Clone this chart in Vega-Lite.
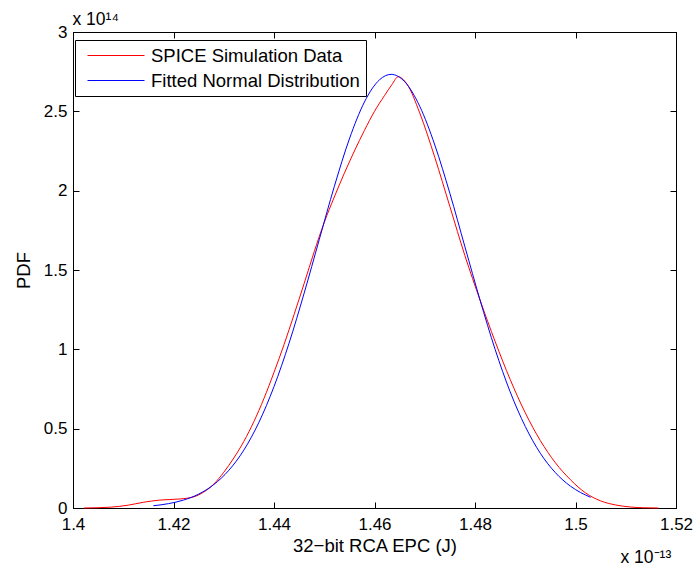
{
  "$schema": "https://vega.github.io/schema/vega-lite/v6.json",
  "width": 603,
  "height": 476,
  "autosize": "none",
  "padding": {"left": 73, "top": 32, "right": 21, "bottom": 61},
  "background": "white",
  "config": {
    "font": "Liberation Sans",
    "view": {"stroke": "black", "strokeWidth": 1},
    "axis": {
      "grid": false,
      "domainColor": "black",
      "tickColor": "black",
      "labelColor": "black",
      "titleColor": "black",
      "labelFontSize": 17,
      "titleFontSize": 18.5,
      "titleFontWeight": "normal",
      "labelFont": "Liberation Sans",
      "titleFont": "Liberation Sans",
      "tickSize": -6
    }
  },
  "data": {
    "values": [
      {"x": 1.4022, "y": 0, "series": "SPICE Simulation Data"},
      {"x": 1.4074, "y": 0.005, "series": "SPICE Simulation Data"},
      {"x": 1.411, "y": 0.018, "series": "SPICE Simulation Data"},
      {"x": 1.414, "y": 0.036, "series": "SPICE Simulation Data"},
      {"x": 1.4173, "y": 0.05, "series": "SPICE Simulation Data"},
      {"x": 1.4213, "y": 0.057, "series": "SPICE Simulation Data"},
      {"x": 1.424, "y": 0.07, "series": "SPICE Simulation Data"},
      {"x": 1.426, "y": 0.1, "series": "SPICE Simulation Data"},
      {"x": 1.428, "y": 0.15, "series": "SPICE Simulation Data"},
      {"x": 1.43, "y": 0.225, "series": "SPICE Simulation Data"},
      {"x": 1.432, "y": 0.315, "series": "SPICE Simulation Data"},
      {"x": 1.434, "y": 0.42, "series": "SPICE Simulation Data"},
      {"x": 1.436, "y": 0.545, "series": "SPICE Simulation Data"},
      {"x": 1.438, "y": 0.69, "series": "SPICE Simulation Data"},
      {"x": 1.44, "y": 0.855, "series": "SPICE Simulation Data"},
      {"x": 1.442, "y": 1.03, "series": "SPICE Simulation Data"},
      {"x": 1.444, "y": 1.22, "series": "SPICE Simulation Data"},
      {"x": 1.446, "y": 1.415, "series": "SPICE Simulation Data"},
      {"x": 1.448, "y": 1.615, "series": "SPICE Simulation Data"},
      {"x": 1.45, "y": 1.8, "series": "SPICE Simulation Data"},
      {"x": 1.452, "y": 1.96, "series": "SPICE Simulation Data"},
      {"x": 1.454, "y": 2.11, "series": "SPICE Simulation Data"},
      {"x": 1.456, "y": 2.25, "series": "SPICE Simulation Data"},
      {"x": 1.458, "y": 2.38, "series": "SPICE Simulation Data"},
      {"x": 1.46, "y": 2.5, "series": "SPICE Simulation Data"},
      {"x": 1.462, "y": 2.6, "series": "SPICE Simulation Data"},
      {"x": 1.4635, "y": 2.67, "series": "SPICE Simulation Data"},
      {"x": 1.4647, "y": 2.718, "series": "SPICE Simulation Data"},
      {"x": 1.4665, "y": 2.67, "series": "SPICE Simulation Data"},
      {"x": 1.469, "y": 2.49, "series": "SPICE Simulation Data"},
      {"x": 1.472, "y": 2.21, "series": "SPICE Simulation Data"},
      {"x": 1.475, "y": 1.9, "series": "SPICE Simulation Data"},
      {"x": 1.478, "y": 1.59, "series": "SPICE Simulation Data"},
      {"x": 1.481, "y": 1.311, "series": "SPICE Simulation Data"},
      {"x": 1.484, "y": 1.05, "series": "SPICE Simulation Data"},
      {"x": 1.487, "y": 0.81, "series": "SPICE Simulation Data"},
      {"x": 1.49, "y": 0.6, "series": "SPICE Simulation Data"},
      {"x": 1.493, "y": 0.425, "series": "SPICE Simulation Data"},
      {"x": 1.496, "y": 0.285, "series": "SPICE Simulation Data"},
      {"x": 1.499, "y": 0.178, "series": "SPICE Simulation Data"},
      {"x": 1.502, "y": 0.095, "series": "SPICE Simulation Data"},
      {"x": 1.505, "y": 0.045, "series": "SPICE Simulation Data"},
      {"x": 1.508, "y": 0.019, "series": "SPICE Simulation Data"},
      {"x": 1.511, "y": 0.006, "series": "SPICE Simulation Data"},
      {"x": 1.5135, "y": 0.0015, "series": "SPICE Simulation Data"},
      {"x": 1.5165, "y": 0, "series": "SPICE Simulation Data"},
      {"x": 1.416, "y": 0.0143, "series": "Fitted Normal Distribution"},
      {"x": 1.419, "y": 0.0274, "series": "Fitted Normal Distribution"},
      {"x": 1.422, "y": 0.05, "series": "Fitted Normal Distribution"},
      {"x": 1.425, "y": 0.0875, "series": "Fitted Normal Distribution"},
      {"x": 1.428, "y": 0.147, "series": "Fitted Normal Distribution"},
      {"x": 1.431, "y": 0.237, "series": "Fitted Normal Distribution"},
      {"x": 1.434, "y": 0.365, "series": "Fitted Normal Distribution"},
      {"x": 1.437, "y": 0.54, "series": "Fitted Normal Distribution"},
      {"x": 1.44, "y": 0.765, "series": "Fitted Normal Distribution"},
      {"x": 1.443, "y": 1.039, "series": "Fitted Normal Distribution"},
      {"x": 1.446, "y": 1.354, "series": "Fitted Normal Distribution"},
      {"x": 1.449, "y": 1.691, "series": "Fitted Normal Distribution"},
      {"x": 1.452, "y": 2.026, "series": "Fitted Normal Distribution"},
      {"x": 1.455, "y": 2.326, "series": "Fitted Normal Distribution"},
      {"x": 1.458, "y": 2.559, "series": "Fitted Normal Distribution"},
      {"x": 1.461, "y": 2.699, "series": "Fitted Normal Distribution"},
      {"x": 1.4633, "y": 2.733, "series": "Fitted Normal Distribution"},
      {"x": 1.466, "y": 2.687, "series": "Fitted Normal Distribution"},
      {"x": 1.469, "y": 2.532, "series": "Fitted Normal Distribution"},
      {"x": 1.472, "y": 2.288, "series": "Fitted Normal Distribution"},
      {"x": 1.475, "y": 1.983, "series": "Fitted Normal Distribution"},
      {"x": 1.478, "y": 1.646, "series": "Fitted Normal Distribution"},
      {"x": 1.481, "y": 1.311, "series": "Fitted Normal Distribution"},
      {"x": 1.484, "y": 1.0, "series": "Fitted Normal Distribution"},
      {"x": 1.487, "y": 0.732, "series": "Fitted Normal Distribution"},
      {"x": 1.49, "y": 0.514, "series": "Fitted Normal Distribution"},
      {"x": 1.493, "y": 0.345, "series": "Fitted Normal Distribution"},
      {"x": 1.496, "y": 0.2226, "series": "Fitted Normal Distribution"},
      {"x": 1.499, "y": 0.1375, "series": "Fitted Normal Distribution"},
      {"x": 1.501, "y": 0.0975, "series": "Fitted Normal Distribution"},
      {"x": 1.503, "y": 0.0678, "series": "Fitted Normal Distribution"}
    ]
  },
  "resolve": {"axis": {"x": "independent", "y": "independent"}},
  "layer": [
    {
      "mark": {"type": "line", "strokeWidth": 1, "interpolate": "monotone"},
      "encoding": {
        "x": {
          "field": "x", "type": "quantitative",
          "scale": {"domain": [1.4, 1.52], "nice": false, "zero": false},
          "axis": {
            "orient": "bottom",
            "values": [1.4, 1.42, 1.44, 1.46, 1.48, 1.5, 1.52],
            "format": "~g",
            "labelPadding": 14,
            "labelFlush": false,
            "labelOverlap": false,
            "title": "32−bit RCA EPC (J)",
            "titlePadding": 4
          }
        },
        "y": {
          "field": "y", "type": "quantitative",
          "scale": {"domain": [0, 3], "nice": false},
          "axis": {
            "orient": "left",
            "values": [0, 0.5, 1, 1.5, 2, 2.5, 3],
            "format": "~g",
            "labelPadding": 12,
            "labelFlush": false,
            "labelOverlap": false,
            "title": "PDF",
            "titlePadding": 10
          }
        },
        "color": {
          "field": "series", "type": "nominal",
          "scale": {
            "domain": ["SPICE Simulation Data", "Fitted Normal Distribution"],
            "range": ["#ff0000", "#0000ff"]
          },
          "legend": {
            "title": null,
            "orient": "none",
            "legendX": 2,
            "legendY": 8,
            "symbolType": "stroke",
            "symbolSize": 3249,
            "symbolStrokeWidth": 1,
            "symbolOffset": 6,
            "labelFontSize": 18.5,
            "labelLimit": 0,
            "labelColor": "black",
            "labelFont": "Liberation Sans",
            "strokeColor": "black",
            "fillColor": "white",
            "padding": 6,
            "rowPadding": 6,
            "clipHeight": 19,
            "labelOffset": 6
          }
        }
      }
    },
    {
      "mark": {"type": "line", "opacity": 0},
      "encoding": {
        "x": {
          "field": "x", "type": "quantitative",
          "scale": {"domain": [1.4, 1.52], "nice": false, "zero": false},
          "axis": {
            "orient": "top",
            "values": [1.4, 1.42, 1.44, 1.46, 1.48, 1.5, 1.52],
            "labels": false,
            "title": "x 10⁻¹³",
            "titleFontSize": 17.5,
            "titleX": 547,
            "titleY": 530,
            "titleAlign": "left",
            "titleBaseline": "alphabetic"
          }
        },
        "y": {
          "field": "y", "type": "quantitative",
          "scale": {"domain": [0, 3], "nice": false},
          "axis": {
            "orient": "right",
            "values": [0, 0.5, 1, 1.5, 2, 2.5, 3],
            "labels": false,
            "title": "x 10¹⁴",
            "titleFontSize": 17.5,
            "titleAngle": 0,
            "titleX": -604,
            "titleY": -8,
            "titleAlign": "left",
            "titleBaseline": "alphabetic"
          }
        }
      }
    }
  ]
}
